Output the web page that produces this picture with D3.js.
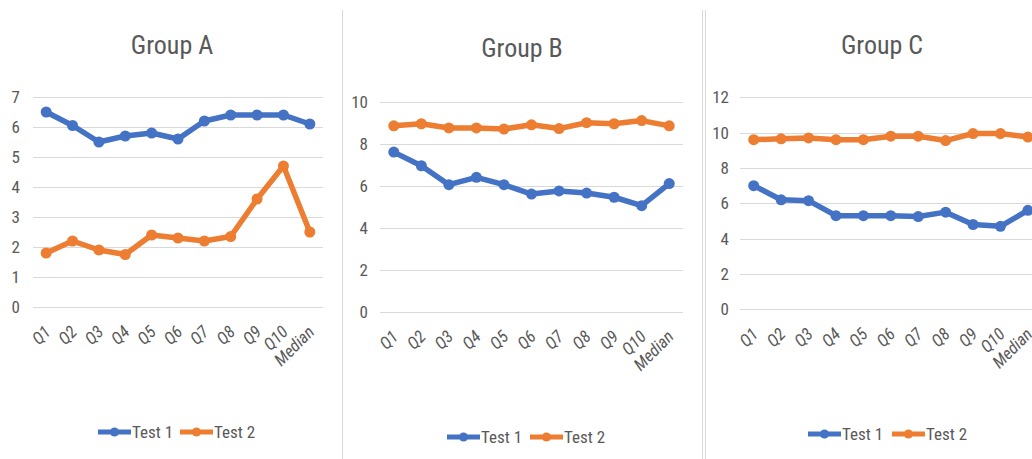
<!DOCTYPE html>
<html><head><meta charset="utf-8">
<script src="https://cdn.jsdelivr.net/npm/d3@7"></script>
<style>
html,body{margin:0;padding:0;background:#fff;overflow:hidden;}
svg{display:block;}
text{font-family:"Liberation Sans Narrow","Roboto Condensed","Liberation Sans",Arial,sans-serif;}
</style></head>
<body>
<svg id="chart" width="1032" height="459"></svg>
<script>
const categories = ["Q1","Q2","Q3","Q4","Q5","Q6","Q7","Q8","Q9","Q10","Median"];
const seriesNames = ["Test 1","Test 2"];
const groupTitles = ["Group A","Group B","Group C"];

const groupATest1 = [6.5, 6.05, 5.5, 5.7, 5.8, 5.6, 6.2, 6.4, 6.4, 6.4, 6.1];
const groupATest2 = [1.8, 2.2, 1.9, 1.75, 2.4, 2.3, 2.2, 2.35, 3.6, 4.7, 2.5];
const groupBTest1 = [7.6, 6.95, 6.05, 6.4, 6.05, 5.6, 5.75, 5.65, 5.45, 5.05, 6.1];
const groupBTest2 = [8.85, 8.95, 8.75, 8.75, 8.7, 8.9, 8.72, 9.0, 8.95, 9.1, 8.85];
const groupCTest1 = [7.0, 6.2, 6.15, 5.3, 5.3, 5.3, 5.25, 5.5, 4.8, 4.7, 5.6];
const groupCTest2 = [9.6, 9.65, 9.7, 9.6, 9.6, 9.8, 9.8, 9.55, 9.95, 9.95, 9.75];

const yTicksA = [0,1,2,3,4,5,6,7];
const yTicksB = [0,2,4,6,8,10];
const yTicksC = [0,2,4,6,8,10,12];

const colors = ["#4472C4","#ED7D31"];

// layout (positions only)
const panels = [
  {title: groupTitles[0], s1: groupATest1, s2: groupATest2, ticks: yTicksA,
   x0: 33, x1: 323, yTop: 97, yBot: 307, titleX: 172, titleY: 54, legX: 98, legY: 432, legGap: 82, tickX: 20},
  {title: groupTitles[1], s1: groupBTest1, s2: groupBTest2, ticks: yTicksB,
   x0: 380, x1: 683, yTop: 101.7, yBot: 311.7, titleX: 522, titleY: 57, legX: 447, legY: 437, legGap: 83, tickX: 368},
  {title: groupTitles[2], s1: groupCTest1, s2: groupCTest2, ticks: yTicksC,
   x0: 740, x1: 1041.6, yTop: 97.3, yBot: 309.3, titleX: 882, titleY: 54, legX: 808, legY: 434, legGap: 84, tickX: 729}
];

const svg = d3.select("#chart");
const FONT = '"Liberation Sans Narrow","Roboto Condensed","Liberation Sans",sans-serif';

// separators
svg.append("line").attr("x1",342.5).attr("x2",342.5).attr("y1",10).attr("y2",459).attr("stroke","#d9d9d9").attr("stroke-width",1);
svg.append("line").attr("x1",702.5).attr("x2",702.5).attr("y1",10).attr("y2",459).attr("stroke","#d9d9d9").attr("stroke-width",1);
svg.append("line").attr("x1",705.5).attr("x2",705.5).attr("y1",10).attr("y2",459).attr("stroke","#d9d9d9").attr("stroke-width",1);

panels.forEach(p => {
  const g = svg.append("g");
  const x = d3.scalePoint().domain(categories).range([p.x0, p.x1]).padding(0.5);
  const yMax = p.ticks[p.ticks.length-1];
  const y = d3.scaleLinear().domain([0, yMax]).range([p.yBot, p.yTop]);

  // gridlines
  g.append("g").selectAll("line").data(p.ticks).join("line")
    .attr("x1", p.x0).attr("x2", p.x1)
    .attr("y1", d => Math.round(y(d))+0.5).attr("y2", d => Math.round(y(d))+0.5)
    .attr("stroke","#d9d9d9").attr("stroke-width",1);

  // y axis labels
  const yAxis = d3.axisLeft(y).tickValues(p.ticks).tickFormat(d3.format("d")).tickSize(0).tickPadding(0);
  const ya = g.append("g").attr("transform",`translate(${p.tickX},0)`).call(yAxis);
  ya.select(".domain").remove();
  ya.selectAll("text").attr("fill","#595959").attr("font-size",17).attr("font-family",FONT);

  // x axis labels
  const xa = g.append("g").attr("transform",`translate(0,${p.yBot})`)
    .call(d3.axisBottom(x).tickSize(0).tickPadding(0));
  xa.select(".domain").remove();
  xa.selectAll("text")
    .attr("fill","#595959").attr("font-size",17).attr("font-style","italic")
    .attr("font-family",FONT)
    .attr("text-anchor","end").attr("dy",null).attr("y",null)
    .attr("transform","translate(5,26) rotate(-45)");

  // title
  g.append("text").attr("x",p.titleX).attr("y",p.titleY).attr("text-anchor","middle")
    .attr("font-size",26).attr("fill","#595959").text(p.title);

  // lines
  const line = d3.line().x((d,i)=>x(categories[i])).y(d=>y(d));
  [p.s1, p.s2].forEach((s, k) => {
    g.append("path").datum(s).attr("d", line).attr("fill","none")
      .attr("stroke", colors[k]).attr("stroke-width",5.5).attr("stroke-linejoin","round");
    g.append("g").selectAll("circle").data(s).join("circle")
      .attr("cx",(d,i)=>x(categories[i])).attr("cy",d=>y(d)).attr("r",5.5)
      .attr("fill",colors[k]);
  });

  // legend
  seriesNames.forEach((nm,k) => {
    const lx = p.legX + k*p.legGap;
    g.append("line").attr("x1",lx).attr("x2",lx+33).attr("y1",p.legY).attr("y2",p.legY)
      .attr("stroke",colors[k]).attr("stroke-width",5);
    g.append("circle").attr("cx",lx+16.5).attr("cy",p.legY).attr("r",4.5).attr("fill",colors[k]);
    g.append("text").attr("x",lx+34).attr("y",p.legY+6).attr("font-size",17)
      .attr("fill","#595959").text(nm);
  });
});
</script>
</body></html>
